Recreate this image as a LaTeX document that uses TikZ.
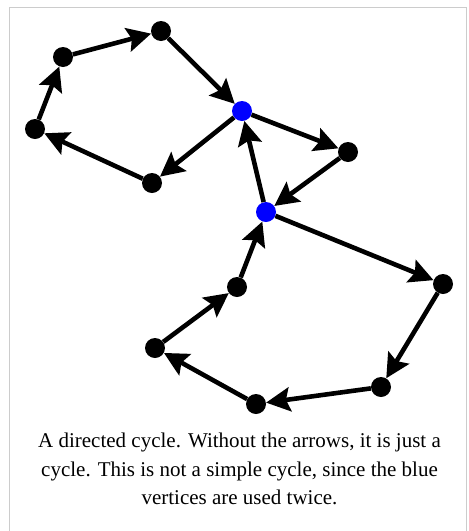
\documentclass[tikz,border=0pt]{standalone}
\usepackage{fontspec}
\setmainfont{Liberation Serif}
\usetikzlibrary{arrows.meta}
\definecolor{vblue}{RGB}{0,0,255}
\definecolor{framegrey}{RGB}{204,204,204}
\tikzset{
  vtx/.style={circle,fill=black,inner sep=0pt,minimum size=20pt},
  bvtx/.style={circle,fill=vblue,inner sep=0pt,minimum size=20pt},
  arc/.style={line width=4.6pt,-{Stealth[length=24pt,width=24pt,inset=4pt]}},
  caption/.style={align=center,font=\fontsize{21}{28.6}\selectfont,inner sep=0pt}
}
\begin{document}
\begin{tikzpicture}[x=1pt,y=-1pt]
\useasboundingbox (0,0) rectangle (469,531);
\draw[framegrey,line width=1.5pt] (9.5,531) -- (9.5,7.5) -- (466.5,7.5) -- (466.5,531);
% vertices
\node[vtx] (a) at (161,31) {};
\node[vtx] (b) at (63,57) {};
\node[vtx] (c) at (35,129) {};
\node[vtx] (d) at (152,183) {};
\node[bvtx] (e) at (242,111) {};
\node[vtx] (f) at (348,152) {};
\node[bvtx] (g) at (266,212) {};
\node[vtx] (h) at (443,284) {};
\node[vtx] (i) at (381,387) {};
\node[vtx] (j) at (256,404) {};
\node[vtx] (k) at (155,348) {};
\node[vtx] (l) at (237,287) {};
% arcs
\draw[arc] (b) -- (a);
\draw[arc] (a) -- (e);
\draw[arc] (e) -- (d);
\draw[arc] (d) -- (c);
\draw[arc] (c) -- (b);
\draw[arc] (e) -- (f);
\draw[arc] (f) -- (g);
\draw[arc] (g) -- (e);
\draw[arc] (g) -- (h);
\draw[arc] (h) -- (i);
\draw[arc] (i) -- (j);
\draw[arc] (j) -- (k);
\draw[arc] (k) -- (l);
\draw[arc] (l) -- (g);
% caption
\node[caption] (cap) at (239.5,469) {A directed cycle. Without the arrows, it is just a\\cycle. This is not a simple cycle, since the blue\\vertices are used twice.};
\end{tikzpicture}
\end{document}
